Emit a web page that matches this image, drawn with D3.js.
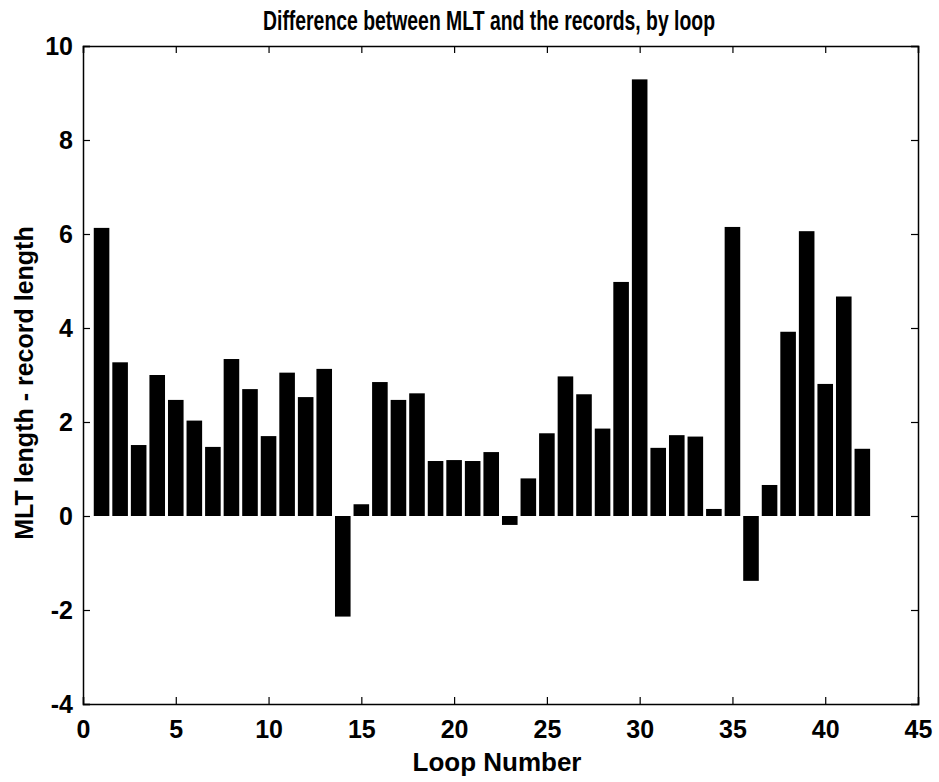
<!DOCTYPE html>
<html>
<head>
<meta charset="utf-8">
<script src="https://cdn.jsdelivr.net/npm/d3@7"></script>
<style>
  html, body { margin: 0; padding: 0; background: #fff; }
  svg text { font-family: "Liberation Sans", Arial, Helvetica, sans-serif; font-weight: bold; fill: #000; }
</style>
</head>
<body>
<svg id="chart" width="939" height="782"></svg>
<script>
// Loop numbers and the MLT-minus-record length difference for each loop
const loops = d3.range(1, 43);
const differences = [
  6.13, 3.27, 1.51, 3.00, 2.47, 2.03, 1.47, 3.34, 2.70, 1.70,
  3.05, 2.53, 3.13, -2.14, 0.25, 2.85, 2.47, 2.61, 1.17, 1.19,
  1.17, 1.36, -0.19, 0.80, 1.76, 2.97, 2.59, 1.86, 4.98, 9.29,
  1.45, 1.72, 1.69, 0.15, 6.15, -1.38, 0.66, 3.92, 6.06, 2.81,
  4.67, 1.43
];
const xTicks = [0, 5, 10, 15, 20, 25, 30, 35, 40, 45];
const yTicks = [-4, -2, 0, 2, 4, 6, 8, 10];

const titleText = "Difference between MLT and the records, by loop";
const xLabelText = "Loop Number";
const yLabelText = "MLT length - record length";

const svg = d3.select("#chart");
const plot = { left: 83, right: 918, top: 46, bottom: 704 };

const x = d3.scaleLinear().domain([0, 45]).range([plot.left, plot.right]);
const y = d3.scaleLinear().domain([-4, 10]).range([plot.bottom, plot.top]);
const barWidth = (x(1) - x(0)) * 0.84;

// Bars
svg.append("g")
  .selectAll("rect")
  .data(loops.map((n, i) => ({ n, v: differences[i] })))
  .join("rect")
  .attr("x", d => x(d.n) - barWidth / 2)
  .attr("width", barWidth)
  .attr("y", d => y(Math.max(0, d.v)))
  .attr("height", d => Math.abs(y(d.v) - y(0)))
  .attr("fill", "#000");

// Axes: ticks point inward on all four sides of the box
const tickLen = 7;
const plain = d => String(d);
const bottomAxis = d3.axisBottom(x).tickValues(xTicks).tickSize(-tickLen).tickPadding(16).tickFormat(plain);
const topAxis = d3.axisTop(x).tickValues(xTicks).tickSize(-tickLen).tickFormat("");
const leftAxis = d3.axisLeft(y).tickValues(yTicks).tickSize(-tickLen).tickPadding(10).tickFormat(plain);
const rightAxis = d3.axisRight(y).tickValues(yTicks).tickSize(-tickLen).tickFormat("");

function styleAxis(g) {
  g.select(".domain").attr("stroke", "#000").attr("stroke-width", 1.5);
  g.selectAll(".tick line").attr("stroke", "#000").attr("stroke-width", 1.2);
  g.selectAll(".tick text").style("font-size", "25px");
}

svg.append("g").attr("transform", `translate(0,${plot.bottom})`).call(bottomAxis).call(styleAxis);
svg.append("g").attr("transform", `translate(0,${plot.top})`).call(topAxis).call(styleAxis);
svg.append("g").attr("transform", `translate(${plot.left},0)`).call(leftAxis).call(styleAxis);
svg.append("g").attr("transform", `translate(${plot.right},0)`).call(rightAxis).call(styleAxis);

// Title (condensed bold) and axis labels
svg.append("text")
  .attr("x", 489)
  .attr("y", 30)
  .attr("text-anchor", "middle")
  .attr("textLength", 452)
  .attr("lengthAdjust", "spacingAndGlyphs")
  .style("font-size", "27px")
  .text(titleText);

svg.append("text")
  .attr("x", 497)
  .attr("y", 771)
  .attr("text-anchor", "middle")
  .style("font-size", "26px")
  .text(xLabelText);

svg.append("text")
  .attr("transform", `translate(33,${(plot.top + plot.bottom) / 2 + 8}) rotate(-90)`)
  .attr("text-anchor", "middle")
  .style("font-size", "25px")
  .text(yLabelText);
</script>
</body>
</html>
